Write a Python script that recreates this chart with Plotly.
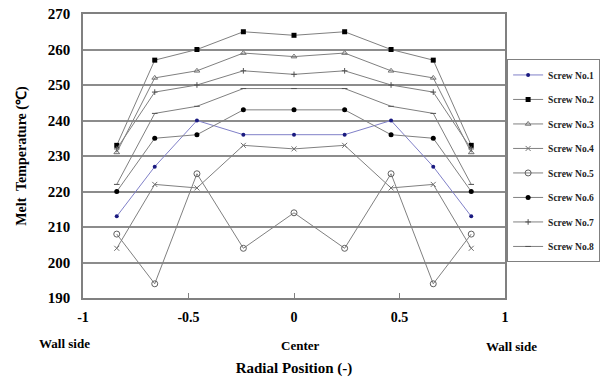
import plotly.graph_objects as go

positions = [-0.84, -0.66, -0.46, -0.24, 0.0, 0.24, 0.46, 0.66, 0.84]
screw1 = [213, 227, 240, 236, 236, 236, 240, 227, 213]
screw2 = [233, 257, 260, 265, 264, 265, 260, 257, 233]
screw3 = [231, 252, 254, 259, 258, 259, 254, 252, 231]
screw4 = [204, 222, 221, 233, 232, 233, 221, 222, 204]
screw5 = [208, 194, 225, 204, 214, 204, 225, 194, 208]
screw6 = [220, 235, 236, 243, 243, 243, 236, 235, 220]
screw7 = [232, 248, 250, 254, 253, 254, 250, 248, 232]
screw8 = [222, 242, 244, 249, 249, 249, 244, 242, 222]
names = ["Screw No.1", "Screw No.2", "Screw No.3", "Screw No.4",
         "Screw No.5", "Screw No.6", "Screw No.7", "Screw No.8"]
series = [screw1, screw2, screw3, screw4, screw5, screw6, screw7, screw8]
x_ticks = [-1, -0.5, 0, 0.5, 1]
x_tick_text = ["-1", "-0.5", "0", "0.5", "1"]

styles = [
    dict(line="#8080c8", marker=dict(symbol="circle", size=4, color="#1a1a80")),
    dict(line="#808080", marker=dict(symbol="square", size=5, color="black")),
    dict(line="#808080", marker=dict(symbol="triangle-up-open", size=5, color="#707070", line=dict(width=1, color="#707070"))),
    dict(line="#808080", marker=dict(symbol="x-thin-open", size=5, color="#707070", line=dict(width=1, color="#707070"))),
    dict(line="#808080", marker=dict(symbol="circle-open", size=6, color="#606060", line=dict(width=1, color="#606060"))),
    dict(line="#808080", marker=dict(symbol="circle", size=5, color="black")),
    dict(line="#808080", marker=dict(symbol="cross-thin-open", size=4, color="#505050", line=dict(width=1, color="#505050"))),
    dict(line="#808080", marker=dict(symbol="line-ew-open", size=4, color="#505050", line=dict(width=1, color="#505050"))),
]

fig = go.Figure()
for i, (nm, ys, st) in enumerate(zip(names, series, styles)):
    fig.add_trace(go.Scatter(
        x=positions, y=ys, name=nm, mode="lines+markers",
        line=dict(color=st["line"], width=1),
        marker=st["marker"], legendgroup=str(i),
    ))

font = "Liberation Serif"
fig.update_layout(
    width=600, height=383,
    margin=dict(l=83, r=95, t=14, b=85, autoexpand=False),
    paper_bgcolor="white", plot_bgcolor="white",
    font=dict(family=font, color="black"),
    showlegend=True,
    legend=dict(
        x=1.005, y=0.84, xanchor="left", yanchor="top",
        bordercolor="#808080", borderwidth=1,
        font=dict(family=font, size=9.5, color="#222", weight="bold"),
        tracegroupgap=5.5, itemwidth=30,
    ),
    xaxis=dict(
        range=[-1, 1], tickvals=x_ticks, ticktext=x_tick_text,
        showgrid=False, zeroline=False, automargin=False,
        showline=True, linecolor="#808080", linewidth=1.5, mirror=True,
        ticks="inside", ticklen=5, tickcolor="#808080",
        ticklabelstandoff=5, ticklabeloverflow="allow",
        tickfont=dict(family=font, size=14, color="black", weight="bold"),
        title=dict(text="Radial Position (-)", font=dict(family=font, size=15, weight="bold"), standoff=39),
    ),
    yaxis=dict(
        range=[190, 270], dtick=10, automargin=False,
        showgrid=True, gridcolor="#8c8c8c", gridwidth=1.5, zeroline=False,
        showline=True, linecolor="#808080", linewidth=1.5, mirror=True,
        ticks="", ticklabelstandoff=8, ticklabeloverflow="allow",
        tickfont=dict(family=font, size=15, color="black", weight="bold"),
        title=dict(text="Melt  Temperature (℃)", font=dict(family=font, size=14, weight="bold"), standoff=18),
    ),
)

for xv, txt, xs, ys_ in [(-1, "Wall side", -19, -36), (0, "Center", 6, -38), (1, "Wall side", 6, -39)]:
    fig.add_annotation(
        x=xv, y=0, xref="x", yref="paper", yanchor="top",
        yshift=ys_, xshift=xs,
        text=txt, showarrow=False,
        font=dict(family=font, size=13, color="black", weight="bold"),
    )

fig.write_html("out.html", config={"displayModeBar": False},
               post_script="document.body.style.margin='0';document.body.style.overflow='hidden';")
